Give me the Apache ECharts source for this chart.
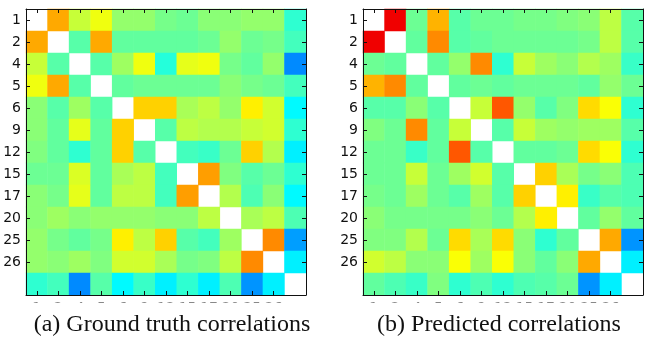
<!DOCTYPE html>
<html>
<head>
<meta charset="utf-8">
<script src="https://cdn.jsdelivr.net/npm/echarts@6/dist/echarts.min.js"></script>
<style>
html,body{margin:0;padding:0;background:#fff;}
#chart{width:646px;height:337px;}
</style>
</head>
<body>
<div id="chart"></div>
<script>
// Tick labels (last row/column has no label)
const labels = ['1','2','4','5','6','9','12','15','17','20','25','26',''];

// Ground truth correlation matrix (colour scale value 0..1, jet), diagonal = null
const groundTruth = [
  [null,.71,.57,.61,.52,.52,.49,.48,.51,.51,.52,.52,.42],
  [.71,null,.46,.71,.47,.47,.47,.47,.48,.52,.48,.49,.44],
  [.57,.46,null,.46,.53,.61,.41,.60,.61,.49,.47,.52,.26],
  [.61,.71,.46,null,.47,.48,.48,.48,.48,.51,.49,.48,.44],
  [.51,.46,.53,.46,null,.67,.67,.54,.56,.52,.64,.58,.37],
  [.51,.47,.60,.47,.67,null,.46,.56,.55,.55,.57,.58,.42],
  [.50,.47,.42,.47,.67,.46,null,.44,.43,.48,.67,.55,.36],
  [.48,.48,.59,.47,.54,.56,.44,null,.72,.50,.46,.48,.42],
  [.51,.49,.60,.47,.56,.56,.44,.72,null,.55,.45,.51,.37],
  [.51,.53,.51,.52,.52,.52,.51,.51,.56,null,.54,.56,.45],
  [.52,.49,.47,.49,.64,.56,.67,.46,.44,.53,null,.74,.28],
  [.52,.51,.53,.50,.58,.58,.54,.49,.50,.56,.74,null,.36],
  [.42,.44,.26,.46,.37,.43,.36,.42,.36,.45,.27,.36,null]
];

// Predicted correlation matrix
const predicted = [
  [null,.89,.48,.70,.46,.48,.48,.49,.49,.50,.51,.56,.46],
  [.89,null,.47,.74,.46,.47,.48,.48,.48,.48,.49,.56,.46],
  [.48,.47,null,.47,.52,.74,.42,.57,.53,.51,.55,.53,.43],
  [.70,.74,.47,null,.47,.48,.47,.48,.48,.48,.47,.52,.48],
  [.46,.46,.51,.46,null,.57,.79,.52,.46,.50,.66,.62,.42],
  [.50,.48,.74,.47,.57,null,.46,.57,.53,.52,.53,.53,.46],
  [.48,.48,.43,.47,.79,.46,null,.47,.47,.48,.66,.62,.42],
  [.48,.48,.57,.48,.53,.58,.46,null,.67,.54,.49,.51,.45],
  [.49,.48,.53,.48,.46,.53,.46,.67,null,.64,.43,.46,.45],
  [.51,.49,.49,.49,.49,.51,.48,.55,.64,null,.47,.52,.47],
  [.50,.50,.55,.48,.66,.54,.66,.51,.42,.47,null,.71,.27],
  [.58,.56,.51,.51,.62,.53,.62,.51,.47,.51,.71,null,.36],
  [.47,.45,.43,.50,.42,.45,.42,.45,.46,.48,.27,.36,null]
];

const captions = ['(a) Ground truth correlations', '(b) Predicted correlations'];

// jet colormap stops (evenly spaced 0, .125, ..., 1)
const jet = ['#000080','#0000ff','#0080ff','#00ffff','#80ff80','#ffff00','#ff8000','#ff0000','#800000'];

function toData(m) {
  const out = [];
  m.forEach((row, i) => row.forEach((v, j) => { if (v !== null) out.push([j, i, v]); }));
  return out;
}

const grids = [
  {left: 26, top: 9, width: 280, height: 286},
  {left: 363, top: 9, width: 280, height: 286}
];

const tickInterval = (idx) => idx < labels.length - 1;
const lineStyle = {color: '#111', width: 1};

function xAxes(gi) {
  return [
    {type: 'category', gridIndex: gi, data: labels, position: 'bottom', z: 10,
     axisLine: {show: true, lineStyle},
     axisTick: {show: true, inside: true, length: 4, alignWithLabel: true, interval: tickInterval, lineStyle},
     axisLabel: {show: true, margin: 6, interval: 0, fontFamily: 'DejaVu Sans', fontSize: 14, color: '#111'},
     splitLine: {show: false}},
    {type: 'category', gridIndex: gi, data: labels, position: 'top', z: 10,
     axisLine: {show: true, lineStyle},
     axisTick: {show: true, inside: true, length: 4, alignWithLabel: true, interval: tickInterval, lineStyle},
     axisLabel: {show: false}, splitLine: {show: false}}
  ];
}
function yAxes(gi) {
  return [
    {type: 'category', gridIndex: gi, data: labels, inverse: true, position: 'left', z: 10,
     axisLine: {show: true, lineStyle},
     axisTick: {show: true, inside: true, length: 4, alignWithLabel: true, interval: tickInterval, lineStyle},
     axisLabel: {show: true, margin: 5, interval: 0, fontFamily: 'DejaVu Sans', fontSize: 14, color: '#111'},
     splitLine: {show: false}},
    {type: 'category', gridIndex: gi, data: labels, inverse: true, position: 'right', z: 10,
     axisLine: {show: true, lineStyle},
     axisTick: {show: true, inside: true, length: 4, alignWithLabel: true, interval: tickInterval, lineStyle},
     axisLabel: {show: false}, splitLine: {show: false}}
  ];
}

const chart = echarts.init(document.getElementById('chart'), null, {renderer: 'canvas'});
chart.setOption({
  animation: false,
  backgroundColor: '#fff',
  grid: grids.map(g => Object.assign({outerBoundsMode: 'none', containLabel: false}, g)),
  xAxis: [...xAxes(0), ...xAxes(1)],
  yAxis: [...yAxes(0), ...yAxes(1)],
  visualMap: {type: 'continuous', show: false, min: 0, max: 1, seriesIndex: [0, 1], inRange: {color: jet}},
  series: [
    {type: 'heatmap', xAxisIndex: 0, yAxisIndex: 0, data: toData(groundTruth),
     itemStyle: {borderWidth: 0}, emphasis: {disabled: true}},
    {type: 'heatmap', xAxisIndex: 2, yAxisIndex: 2, data: toData(predicted),
     itemStyle: {borderWidth: 0}, emphasis: {disabled: true}}
  ],
  graphic: [
    {type: 'rect', z: 100, zlevel: 0, silent: true,
     shape: {x: 0, y: 302.5, width: 646, height: 12}, style: {fill: '#ffffff'}},
    {type: 'text', x: 172, y: 325, z: 101,
     style: {text: captions[0], fontFamily: 'Liberation Serif', fontSize: 24, fill: '#111', align: 'center', verticalAlign: 'middle'}},
    {type: 'text', x: 499, y: 325, z: 101,
     style: {text: captions[1], fontFamily: 'Liberation Serif', fontSize: 24, fill: '#111', align: 'center', verticalAlign: 'middle'}}
  ]
});
</script>
</body>
</html>
